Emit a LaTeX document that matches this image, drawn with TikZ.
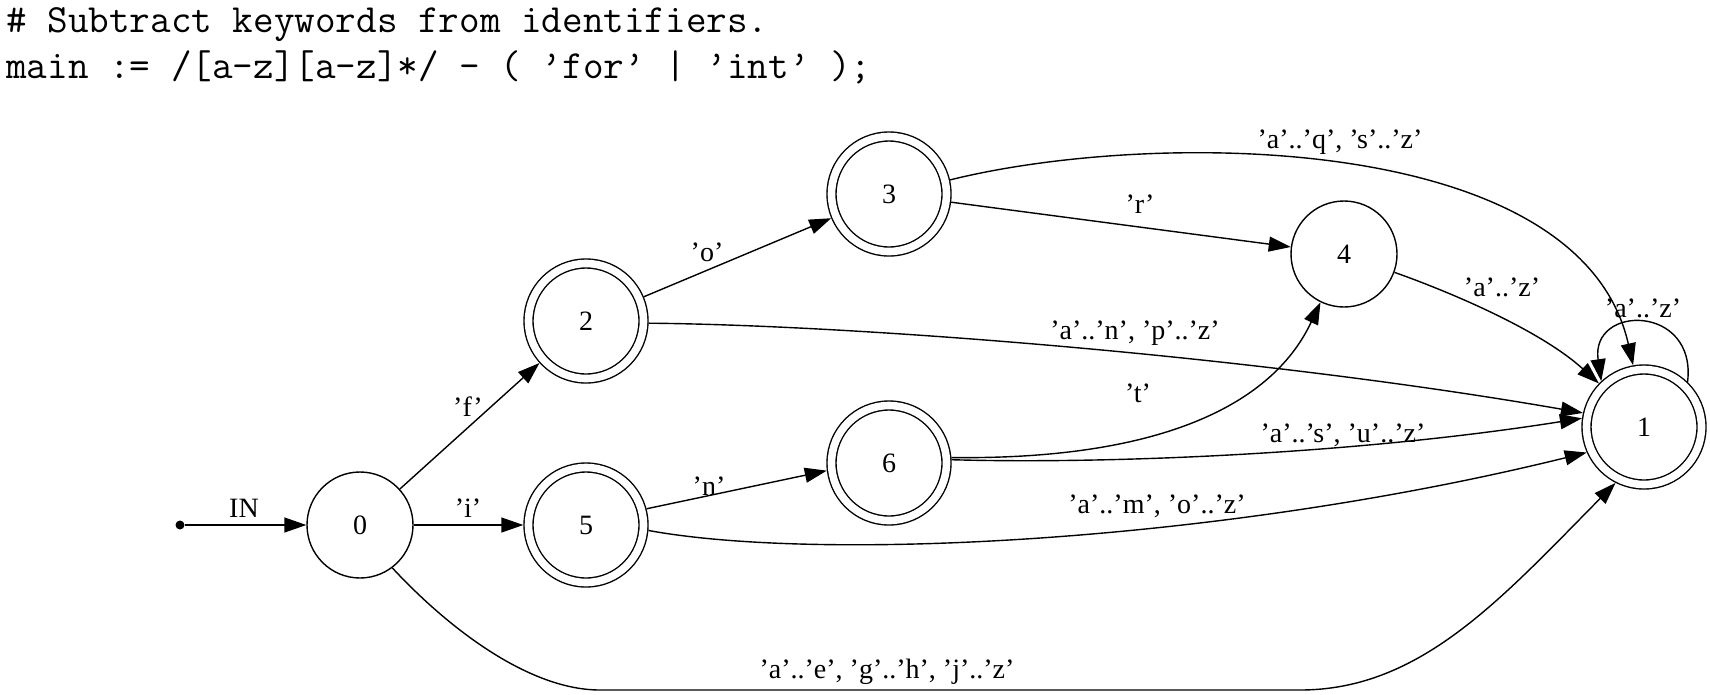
\documentclass[tikz,border=0pt]{standalone}
\usepackage{fontspec}
\newfontfamily\labfont{Liberation Serif}
\usetikzlibrary{arrows.meta}
\tikzset{
  st/.style={circle, draw, line width=1.4pt, minimum size=106pt, inner sep=0pt, font=\labfont\fontsize{28}{34}\selectfont},
  acc/.style={st, double, double distance=7.6pt, minimum size=115pt, outer sep=5.2pt},
  edge/.style={-{Triangle[length=22pt,width=15pt]}, line width=1.4pt},
  lbl/.style={inner sep=0pt, font=\labfont\fontsize{28}{34}\selectfont},
  hdr/.style={anchor=base west, inner sep=0pt, font=\ttfamily\fontsize{40}{48}\selectfont},
}
\begin{document}
\begin{tikzpicture}[x=1pt,y=1pt]
\useasboundingbox (0,0) rectangle (1710,-694);
% header
\node[hdr] (h1) at (6,-32) {\# Subtract keywords from identifiers.};
\node[hdr] (h2) at (6,-78) {main := /[a-z][a-z]*/ - ( ’for’ | ’int’ );};
% states
\node[circle, fill, inner sep=0pt, minimum size=9pt] (init) at (180,-525) {};
\node[st]  (n0) at (360,-525) {0};
\node[acc] (n2) at (586,-321) {2};
\node[acc] (n5) at (586,-525) {5};
\node[acc] (n3) at (889,-194) {3};
\node[acc] (n6) at (889,-463) {6};
\node[st]  (n4) at (1344,-254) {4};
\node[acc] (n1) at (1644,-427) {1};
% edges
\draw[edge] (init) -- (n0);
\draw[edge] (n0) -- (n2);
\draw[edge] (n0) -- (n5);
\draw[edge] (n2) -- (n3);
\draw[edge] (n5.15) -- (n6.187);
\draw[edge] (n3) -- (n4);
\draw[edge] (n2.-2) .. controls (850,-325) and (1250,-355) .. (n1.167);
\draw[edge] (n5.-5) .. controls (820,-562) and (1220,-543) .. (n1.204);
\draw[edge] (n6.3) .. controls (1100,-464) and (1350,-455) .. (n1.172);
\draw[edge] (n6.5) .. controls (1150,-460) and (1270,-410) .. (n4.244);
\draw[edge] (n4.-20) .. controls (1450,-292) and (1540,-330) .. (n1.136);
\draw[edge] (n3.13) .. controls (1150,-130) and (1580,-130) .. (n1.100);
\draw[edge] (n0.-53) .. controls (450,-630) and (530,-690) .. (600,-690) -- (1300,-690) .. controls (1420,-690) and (1500,-600) .. (n1.243);
\draw[edge] (n1.46) .. controls (1697,-304) and (1590,-304) .. (n1.133);
% labels
\node[lbl] (lIN) at (244,-508) {IN};
\node[lbl] (lf) at (468,-407) {’f’};
\node[lbl] (li) at (468,-508) {’i’};
\node[lbl] (lo) at (707,-252) {’o’};
\node[lbl] (ln) at (709,-486) {’n’};
\node[lbl] (lr) at (1140,-204) {’r’};
\node[lbl] (lt) at (1138,-393) {’t’};
\node[lbl] (l31) at (1340,-142) {’a’..’q’, ’s’..’z’};
\node[lbl] (l21) at (1135,-333) {’a’..’n’, ’p’..’z’};
\node[lbl] (l61) at (1343,-435) {’a’..’s’, ’u’..’z’};
\node[lbl] (l51) at (1157,-506) {’a’..’m’, ’o’..’z’};
\node[lbl] (l01) at (887,-672) {’a’..’e’, ’g’..’h’, ’j’..’z’};
\node[lbl] (l41) at (1502,-287) {’a’..’z’};
\node[lbl] (l11) at (1643,-308) {’a’..’z’};
\end{tikzpicture}
\end{document}
